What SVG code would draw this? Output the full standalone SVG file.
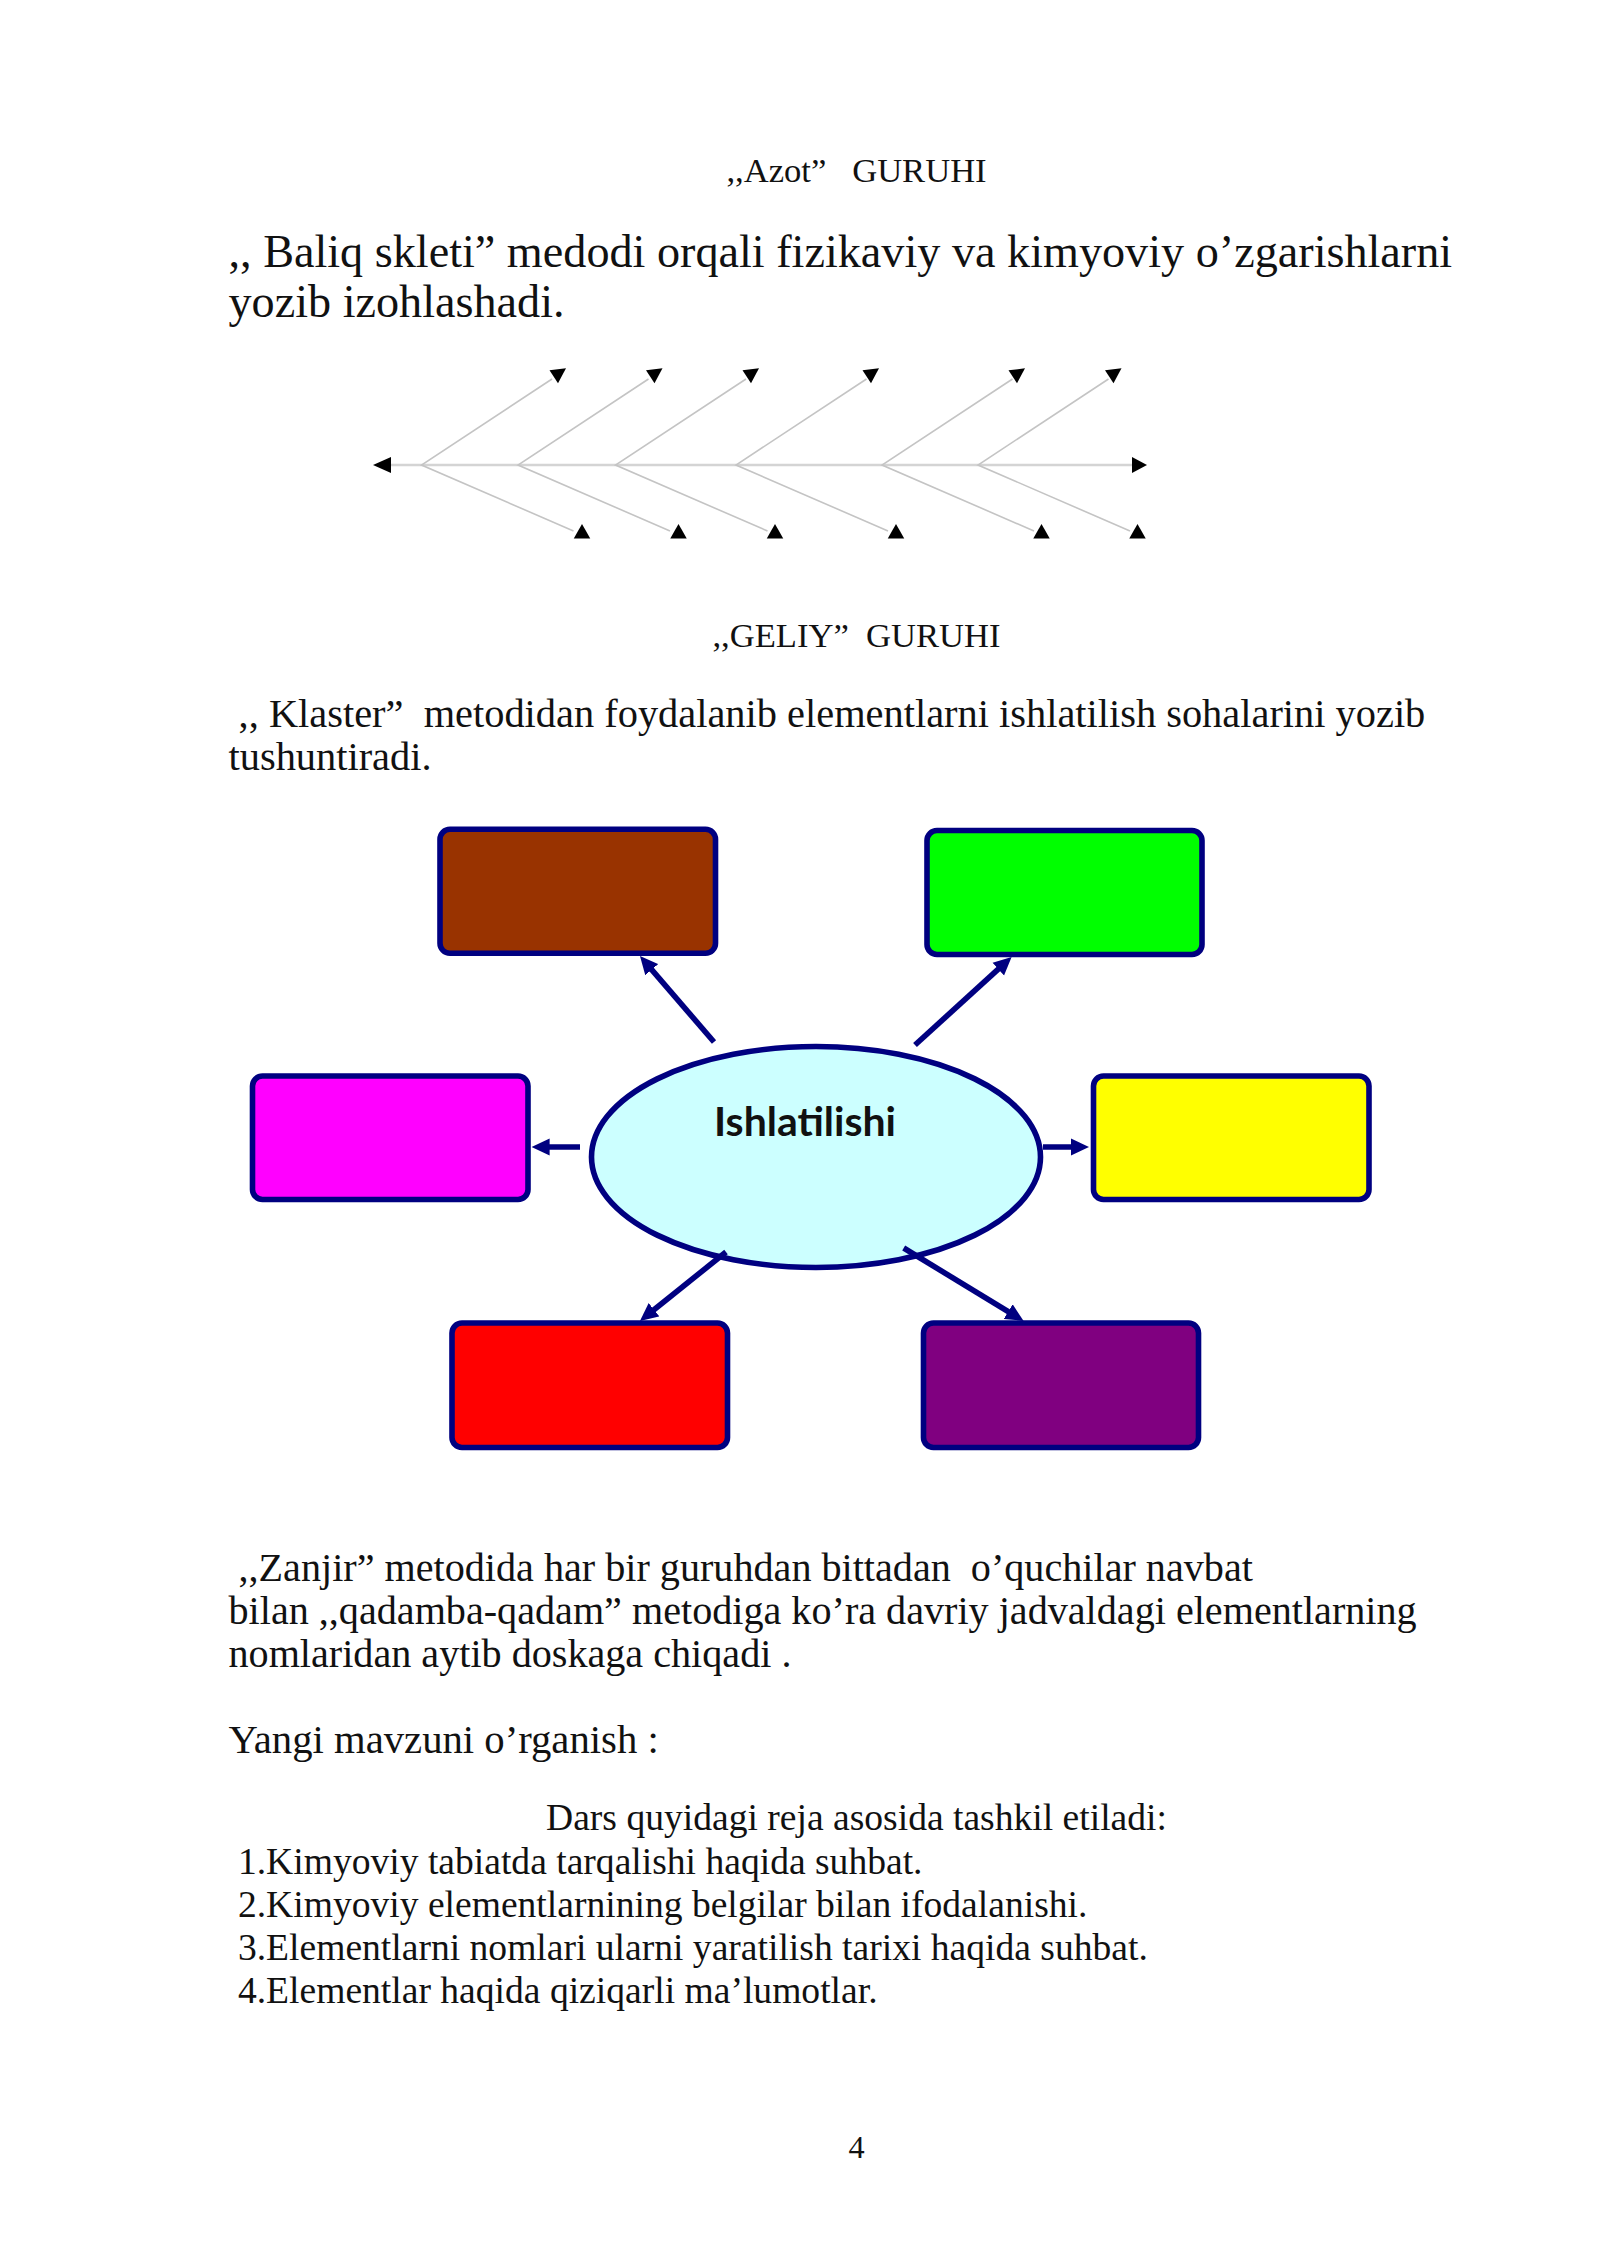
<svg xmlns="http://www.w3.org/2000/svg" width="1600" height="2262" viewBox="0 0 1600 2262">
<style>
text{font-family:"Liberation Serif","Times New Roman",serif;fill:#111;white-space:pre}
.h{font-size:34.6px;text-anchor:middle}
.p{font-size:32.3px;text-anchor:middle}
.k{font-size:40.4px}
.b{font-size:40.15px}
.y{font-size:40.7px}
.c{font-size:37.6px}
.l{font-size:46.2px}
.box{stroke:#000080;stroke-width:5.6}
.spine{stroke:#c4c4c4;stroke-width:1.6;fill:none}
.main{stroke:#d4d4d4;stroke-width:2.4;fill:none}
.head{fill:#000}
.arrow{stroke:#000080;stroke-width:5.6;fill:none;marker-end:url(#ah)}
</style>
<defs>
<marker id="ah" markerUnits="userSpaceOnUse" markerWidth="20" markerHeight="18" refX="10" refY="8.5" orient="auto" viewBox="0 0 20 17">
<polygon points="0,0 18,8.5 0,17" fill="#000080"/>
</marker>
<polygon id="up" class="head" points="-8.25,14.5 8.25,14.5 0,0"/>
<polygon id="dn" class="head" points="-8.5,2 8,0 0,15"/>
</defs>
<rect width="1600" height="2262" fill="#fff"/>
<g id="texts-top">
<text class="h" x="856.5" y="182">,,Azot”   GURUHI</text>
<text class="l" x="228.5" y="267">,, Baliq skleti” medodi orqali fizikaviy va kimyoviy o’zgarishlarni</text>
<text class="l" x="228.5" y="317">yozib izohlashadi.</text>
<text class="h" x="856.5" y="647">,,GELIY”  GURUHI</text>
<text class="k" x="228.5" y="727"> ,, Klaster”  metodidan foydalanib elementlarni ishlatilish sohalarini yozib</text>
<text class="k" x="228.5" y="770">tushuntiradi.</text>
</g>
<g id="fishbone">
<path class="main" d="M390 465H1132"/>
<g class="spine-lines">
<path class="spine" d="M552 379L421.5 465L573.5 531"/>
<path class="spine" d="M648.5 379L518 465L670 531"/>
<path class="spine" d="M746 379L615.5 465L767.5 531"/>
<path class="spine" d="M866.5 379L736 465L888 531"/>
<path class="spine" d="M1012.5 379L882 465L1034 531"/>
<path class="spine" d="M1108.5 379L978 465L1130 531"/>
</g>
<polygon class="head" points="391,457 391,473 373,465"/>
<polygon class="head" points="1132,457 1132,473 1147,465"/>
<use href="#dn" x="558" y="368.3"/>
<use href="#dn" x="654.5" y="368.3"/>
<use href="#dn" x="751" y="368.3"/>
<use href="#dn" x="871" y="368.3"/>
<use href="#dn" x="1017" y="368.3"/>
<use href="#dn" x="1113.5" y="368.3"/>
<use href="#up" x="582" y="524"/>
<use href="#up" x="678.5" y="524"/>
<use href="#up" x="775" y="524"/>
<use href="#up" x="896" y="524"/>
<use href="#up" x="1041.5" y="524"/>
<use href="#up" x="1137.5" y="524"/>
</g>
<g id="connectors">
<line class="arrow" x1="714" y1="1042" x2="645.2" y2="962.1"/>
<line class="arrow" x1="915" y1="1045" x2="1005.7" y2="962.4"/>
<line class="arrow" x1="580" y1="1147" x2="539.6" y2="1147"/>
<line class="arrow" x1="1043" y1="1147" x2="1081" y2="1147"/>
</g>
<g id="node-center">
<ellipse cx="816" cy="1157" rx="224.5" ry="110.5" fill="#ccffff" class="box"/>
<text x="714" y="1136" style="font-family:Lato,'Noto Sans',sans-serif;font-weight:700;font-size:41px;fill:#111">Ishlatilishi</text>
</g>
<g id="connectors-lower">
<line class="arrow" x1="726" y1="1252" x2="646.2" y2="1316"/>
<line class="arrow" x1="903.7" y1="1248" x2="1016.8" y2="1316.8"/>
</g>
<g id="node-brown"><rect class="box" x="440" y="829.3" width="275.5" height="124" rx="10" fill="#993300"/></g>
<g id="node-green"><rect class="box" x="927" y="830.5" width="275" height="124" rx="10" fill="#00ff00"/></g>
<g id="node-magenta"><rect class="box" x="252.5" y="1076" width="275.5" height="123.5" rx="10" fill="#ff00ff"/></g>
<g id="node-yellow"><rect class="box" x="1093.5" y="1076" width="275.5" height="123.5" rx="10" fill="#ffff00"/></g>
<g id="node-red"><rect class="box" x="452" y="1323" width="275.5" height="124.5" rx="10" fill="#ff0000"/></g>
<g id="node-purple"><rect class="box" x="923.5" y="1323" width="275" height="124.5" rx="10" fill="#800080"/></g>
<g id="texts-bottom">
<text class="b" x="228.5" y="1581"> ,,Zanjir” metodida har bir guruhdan bittadan  o’quchilar navbat</text>
<text class="b" x="228.5" y="1624">bilan ,,qadamba-qadam” metodiga ko’ra davriy jadvaldagi elementlarning</text>
<text class="b" x="228.5" y="1667">nomlaridan aytib doskaga chiqadi .</text>
<text class="y" x="228.5" y="1753">Yangi mavzuni o’rganish :</text>
<text class="c" x="856.5" y="1830" style="text-anchor:middle">Dars quyidagi reja asosida tashkil etiladi:</text>
<text class="c" x="228.5" y="1873.5"> 1.Kimyoviy tabiatda tarqalishi haqida suhbat.</text>
<text class="c" x="228.5" y="1916.5"> 2.Kimyoviy elementlarnining belgilar bilan ifodalanishi.</text>
<text class="c" x="228.5" y="1959.5"> 3.Elementlarni nomlari ularni yaratilish tarixi haqida suhbat.</text>
<text class="c" x="228.5" y="2002.5"> 4.Elementlar haqida qiziqarli ma’lumotlar.</text>
<text class="p" x="856.5" y="2158">4</text>
</g>
</svg>
